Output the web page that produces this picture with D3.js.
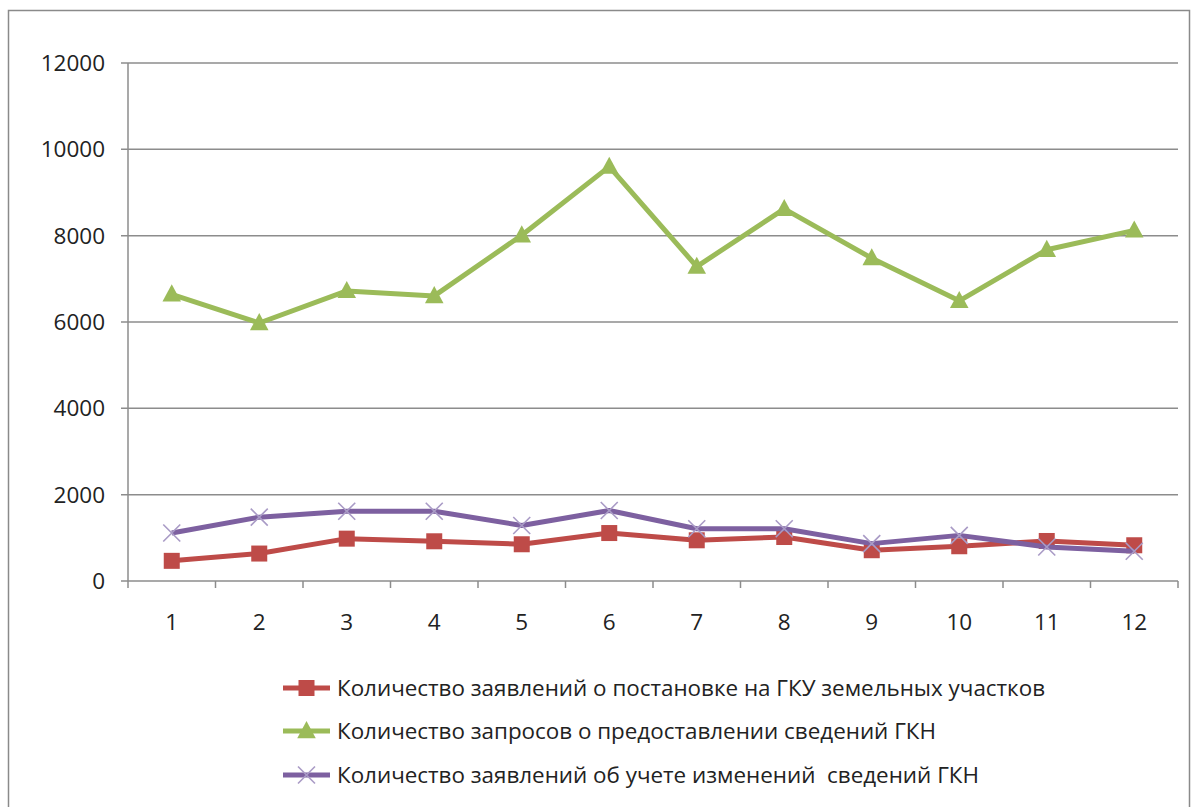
<!DOCTYPE html>
<html>
<head>
<meta charset="utf-8">
<script src="https://cdn.jsdelivr.net/npm/d3@7"></script>
<style>
  html, body { margin: 0; padding: 0; background: #fff; }
  svg { display: block; }
  text { font-family: "Open Sans", "Noto Sans", sans-serif; fill: #222; }
</style>
</head>
<body>
<svg id="chart" width="1195" height="807"></svg>
<script>
// Months (1..12)
const categories = ["1", "2", "3", "4", "5", "6", "7", "8", "9", "10", "11", "12"];

// Series values
const registrationRequests = [467, 636, 981, 920, 851, 1111, 943, 1019, 713, 805, 927, 828];
const infoRequests = [6642, 5977, 6720, 6604, 8010, 9600, 7284, 8620, 7479, 6490, 7673, 8123];
const changeRequests = [1111, 1479, 1617, 1617, 1287, 1632, 1211, 1211, 866, 1057, 789, 690];

const seriesNames = [
  "Количество заявлений о постановке на ГКУ земельных участков",
  "Количество запросов о предоставлении сведений ГКН",
  "Количество заявлений об учете изменений  сведений ГКН"
];

const yTicks = [0, 2000, 4000, 6000, 8000, 10000, 12000];

const series = [
  { name: seriesNames[0], values: registrationRequests, color: "#BE4B48", marker: "square" },
  { name: seriesNames[1], values: infoRequests, color: "#9BBB59", marker: "triangle" },
  { name: seriesNames[2], values: changeRequests, color: "#7D60A0", marker: "cross" }
];

const svg = d3.select("#chart");
const plot = { left: 128, right: 1178, top: 63, bottom: 581 };

// Outer frame
svg.append("rect")
  .attr("x", 8.5).attr("y", 10.5)
  .attr("width", 1181).attr("height", 820)
  .attr("fill", "none").attr("stroke", "#8a8a8a").attr("stroke-width", 1.5);

const x = d3.scaleBand().domain(categories).range([plot.left, plot.right]).padding(0);
const y = d3.scaleLinear().domain([0, 12000]).range([plot.bottom, plot.top]);

// Horizontal gridlines
svg.append("g").selectAll("line").data(yTicks).join("line")
  .attr("x1", plot.left - 7).attr("x2", plot.right)
  .attr("y1", d => y(d)).attr("y2", d => y(d))
  .attr("stroke", "#8c8c8c").attr("stroke-width", 1.5);

// Y axis line
svg.append("line")
  .attr("x1", plot.left).attr("x2", plot.left)
  .attr("y1", plot.top).attr("y2", plot.bottom)
  .attr("stroke", "#8c8c8c").attr("stroke-width", 1.5);

// Y tick labels
svg.append("g").selectAll("text").data(yTicks).join("text")
  .attr("x", 105).attr("y", d => y(d))
  .attr("dy", "0.35em")
  .attr("text-anchor", "end")
  .style("font-size", "22.5px")
  .text(d => d);

// X axis ticks at category boundaries
const bounds = categories.map(c => x(c)).concat([plot.right]);
svg.append("g").selectAll("line").data(bounds).join("line")
  .attr("x1", d => d).attr("x2", d => d)
  .attr("y1", plot.bottom).attr("y2", plot.bottom + 7)
  .attr("stroke", "#8c8c8c").attr("stroke-width", 1.5);

// X tick labels
svg.append("g").selectAll("text").data(categories).join("text")
  .attr("x", d => x(d) + x.bandwidth() / 2)
  .attr("y", 622)
  .attr("dy", "0.35em")
  .attr("text-anchor", "middle")
  .style("font-size", "22.5px")
  .text(d => d);

const cx = (i) => x(categories[i]) + x.bandwidth() / 2;

function drawMarker(g, type, color, px, py, size) {
  if (type === "square") {
    g.append("rect")
      .attr("x", px - size / 2).attr("y", py - size / 2)
      .attr("width", size).attr("height", size)
      .attr("fill", color);
  } else if (type === "triangle") {
    const h = size;
    g.append("path")
      .attr("d", `M${px},${py - h * 0.62} L${px + h * 0.58},${py + h * 0.45} L${px - h * 0.58},${py + h * 0.45} Z`)
      .attr("fill", color);
  } else {
    const s = size / 2;
    g.append("path")
      .attr("d", `M${px - s},${py - s} L${px + s},${py + s} M${px - s},${py + s} L${px + s},${py - s}`)
      .attr("stroke", "#a99bc6").attr("stroke-width", 1.6).attr("fill", "none");
  }
}

const line = d3.line().x((d, i) => cx(i)).y(d => y(d));

// Draw series: lines then markers
series.forEach(s => {
  const g = svg.append("g");
  g.append("path")
    .datum(s.values)
    .attr("d", line)
    .attr("fill", "none")
    .attr("stroke", s.color)
    .attr("stroke-width", 5)
    .attr("stroke-linejoin", "round");
  s.values.forEach((v, i) => {
    drawMarker(g, s.marker, s.color, cx(i), y(v), s.marker === "cross" ? 17 : 16);
  });
});

// Legend
const legendRows = [688, 731, 775];
series.forEach((s, k) => {
  const g = svg.append("g");
  const ly = legendRows[k];
  g.append("line")
    .attr("x1", 283).attr("x2", 330)
    .attr("y1", ly).attr("y2", ly)
    .attr("stroke", s.color).attr("stroke-width", 5);
  drawMarker(g, s.marker, s.color, 306.5, ly, s.marker === "cross" ? 17 : 16);
  g.append("text")
    .attr("x", 337).attr("y", ly)
    .attr("dy", "0.35em")
    .style("font-size", "22.4px")
    .style("white-space", "pre")
    .text(s.name);
});
</script>
</body>
</html>
